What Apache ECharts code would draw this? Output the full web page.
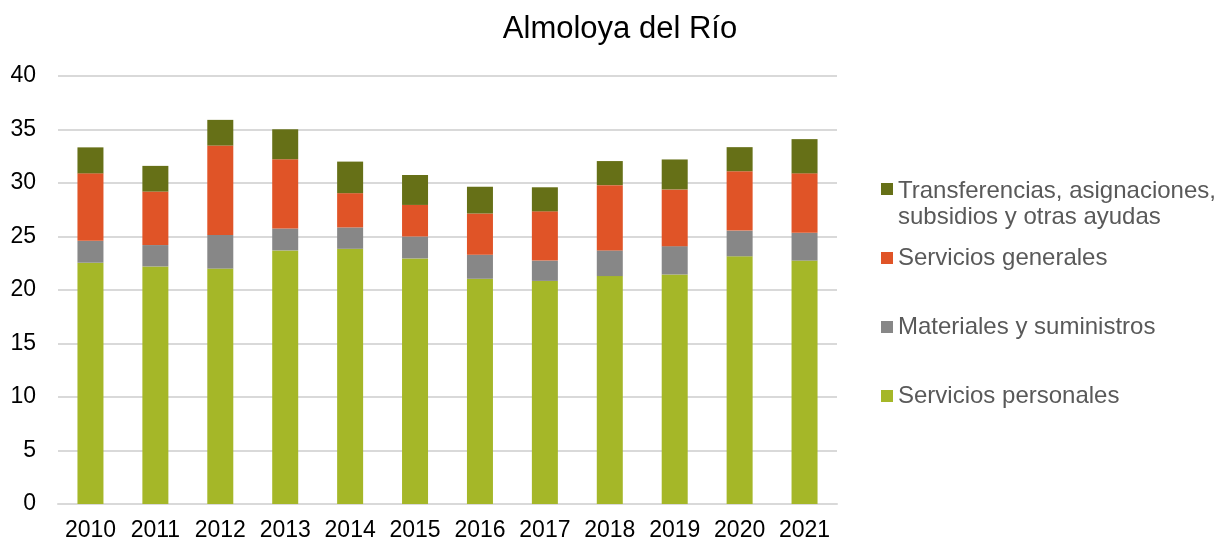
<!DOCTYPE html>
<html>
<head>
<meta charset="utf-8">
<title>Almoloya del Río</title>
<script src="https://cdn.jsdelivr.net/npm/echarts@6/dist/echarts.min.js"></script>
<style>
  html, body { margin: 0; padding: 0; background: #fff; }
  #main { width: 1223px; height: 545px; }
</style>
</head>
<body>
<div id="main"></div>
<script>
'use strict'

var years = ['2010', '2011', '2012', '2013', '2014', '2015', '2016', '2017', '2018', '2019', '2020', '2021'];

var personales = [22.55, 22.2, 22.0, 23.7, 23.85, 22.95, 21.05, 20.85, 21.3, 21.45, 23.15, 22.75];
var materiales = [2.05, 2.0, 3.15, 2.05, 2.0, 2.05, 2.25, 1.9, 2.4, 2.65, 2.4, 2.6];
var generales = [6.3, 5.0, 8.35, 6.47, 3.2, 2.95, 3.85, 4.6, 6.1, 5.3, 5.55, 5.55];
var transferencias = [2.43, 2.4, 2.4, 2.8, 2.95, 2.8, 2.5, 2.25, 2.25, 2.8, 2.25, 3.2];

var names = ['Servicios personales', 'Materiales y suministros', 'Servicios generales',
             'Transferencias, asignaciones, subsidios y otras ayudas'];
var colors = ['#a5b728', '#878787', '#e05427', '#667017'];

var font = 'Liberation Sans, Arial, sans-serif';

function legendItem(name, top) {
    return {
        data: [name],
        left: 876,
        top: top,
        orient: 'vertical',
        icon: 'rect',
        itemWidth: 12,
        itemHeight: 12,
        selectedMode: false,
        textStyle: {
            color: '#595959',
            fontSize: 24,
            fontFamily: font,
            lineHeight: 28
        }
    };
}

// long name wrapped in two lines, icon kept on the first line
var legendTransf = legendItem(names[3], 142);
legendTransf.formatter = function () {
    return '{a|Transferencias, asignaciones,}\n{b|subsidios y otras ayudas}';
};
legendTransf.textStyle.rich = {
    a: { color: '#595959', fontSize: 24, fontFamily: font, lineHeight: 56, verticalAlign: 'bottom' },
    b: { color: '#595959', fontSize: 24, fontFamily: font, lineHeight: 28 }
};

var option = {
    title: {
        text: 'Almoloya del Río',
        left: 615,
        top: 9,
        textAlign: 'center',
        textStyle: {
            color: '#000',
            fontSize: 31,
            fontWeight: 'normal',
            fontFamily: font
        }
    },
    color: colors,
    legend: [
        legendTransf,
        legendItem(names[2], 239),
        legendItem(names[1], 308),
        legendItem(names[0], 377)
    ],
    grid: {
        left: 58,
        right: 386,
        top: 76,
        bottom: 41
    },
    xAxis: {
        type: 'category',
        data: years,
        axisTick: { show: false },
        axisLine: { lineStyle: { color: '#d9d9d9', width: 2 } },
        axisLabel: {
            interval: 0,
            color: '#000',
            fontSize: 23,
            fontFamily: font,
            margin: 15
        }
    },
    yAxis: {
        type: 'value',
        min: 0,
        max: 40,
        interval: 5,
        axisLine: { show: false },
        axisTick: { show: false },
        axisLabel: {
            color: '#000',
            fontSize: 23,
            fontFamily: font,
            margin: 22
        },
        splitLine: { lineStyle: { color: '#d9d9d9', width: 2 } }
    },
    series: [
        { name: names[0], type: 'bar', stack: 'total', barWidth: 26, data: personales },
        { name: names[1], type: 'bar', stack: 'total', barWidth: 26, data: materiales },
        { name: names[2], type: 'bar', stack: 'total', barWidth: 26, data: generales },
        { name: names[3], type: 'bar', stack: 'total', barWidth: 26, data: transferencias }
    ]
};

var myChart = echarts.init(document.getElementById('main'));
myChart.setOption(option);
</script>
</body>
</html>
